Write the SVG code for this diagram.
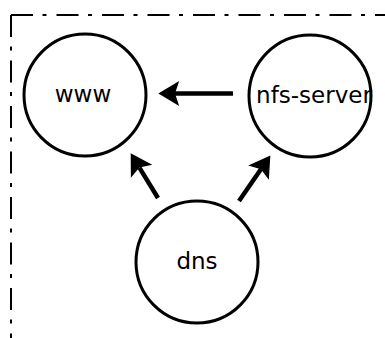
<svg xmlns="http://www.w3.org/2000/svg" width="385" height="338" viewBox="0 0 385 338">
  <style>
    .frame { fill: none; stroke: #000; stroke-width: 2; stroke-dasharray: 22 9.5 4 10; }
    .node circle { fill: #fff; stroke: #000; stroke-width: 3; }
    .node text { font-family: "DejaVu Sans", sans-serif; font-size: 23px; fill: #000; text-anchor: middle; }
    .edge { fill: none; stroke: #000; stroke-width: 4.5; marker-end: url(#head); }
  </style>
  <defs>
    <marker id="head" markerUnits="userSpaceOnUse" markerWidth="24" markerHeight="28" viewBox="-1 -13 23 26" refX="4" refY="0" orient="auto">
      <path d="M20,0 L0,-12 L4,0 L0,12 Z" fill="#000"/>
    </marker>
  </defs>
  <rect width="385" height="338" fill="#fff"/>

  <!-- dash-dot boundary -->
  <g id="boundary">
    <line class="frame" x1="11" y1="15" x2="400" y2="15"/>
    <line class="frame" x1="11" y1="15" x2="11" y2="400"/>
  </g>

  <!-- connectors -->
  <g id="connectors">
    <line class="edge" x1="233" y1="93.5" x2="175" y2="93.5"/>
    <line class="edge" x1="158" y1="198" x2="139.4" y2="167.6"/>
    <line class="edge" x1="239" y1="201" x2="260.9" y2="169.2"/>
  </g>

  <g id="www" class="node">
    <circle cx="85" cy="95" r="61"/>
    <text x="83" y="102">www</text>
  </g>
  <g id="nfs-server" class="node">
    <circle cx="310" cy="96" r="61"/>
    <text x="314" y="103">nfs-server</text>
  </g>
  <g id="dns" class="node">
    <circle cx="197" cy="262" r="61"/>
    <text x="197" y="269">dns</text>
  </g>
</svg>
